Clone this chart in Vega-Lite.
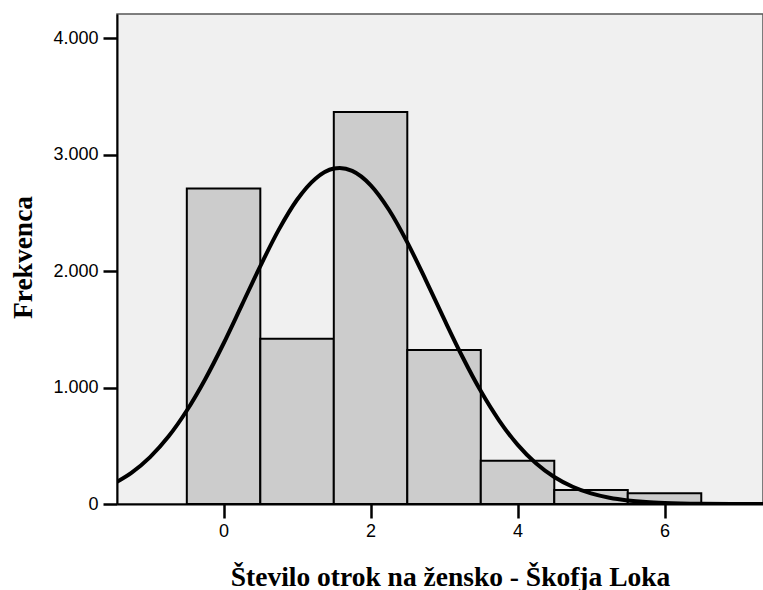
{
  "$schema": "https://vega.github.io/schema/vega-lite/v6.json",
  "width": 646,
  "height": 490,
  "autosize": "none",
  "padding": {"left": 117, "top": 14, "right": 0, "bottom": 86},
  "background": "white",
  "config": {
    "view": {"fill": "#F0F0F0", "stroke": "#555555", "strokeWidth": 1.5},
    "axis": {
      "grid": false,
      "domainColor": "black",
      "domainWidth": 2,
      "tickColor": "black",
      "tickWidth": 2.5,
      "tickSize": 14,
      "labelFont": "Liberation Sans",
      "labelFontSize": 18,
      "labelColor": "black",
      "titleFont": "Liberation Serif",
      "titleFontWeight": "bold",
      "titleFontSize": 27.5,
      "titleColor": "black"
    }
  },
  "layer": [
    {
      "data": {
        "values": [
          {"bin_start": -0.5, "bin_end": 0.5, "count": 2710},
          {"bin_start": 0.5, "bin_end": 1.5, "count": 1420},
          {"bin_start": 1.5, "bin_end": 2.5, "count": 3368},
          {"bin_start": 2.5, "bin_end": 3.5, "count": 1323},
          {"bin_start": 3.5, "bin_end": 4.5, "count": 372},
          {"bin_start": 4.5, "bin_end": 5.5, "count": 120},
          {"bin_start": 5.5, "bin_end": 6.5, "count": 92}
        ]
      },
      "mark": {"type": "rect", "fill": "#CCCCCC", "stroke": "black", "strokeWidth": 2},
      "encoding": {
        "x": {
          "field": "bin_start",
          "type": "quantitative",
          "scale": {"domain": [-1.45, 7.34], "nice": false, "zero": false},
          "axis": {
            "values": [0, 2, 4, 6],
            "format": "d",
            "labelPadding": 4,
            "title": "Število otrok na žensko - Škofja Loka",
            "titleBaseline": "alphabetic",
            "titleX": 333,
            "titleY": 81
          }
        },
        "x2": {"field": "bin_end"},
        "y": {
          "field": "count",
          "type": "quantitative",
          "scale": {"domain": [0, 4210], "nice": false},
          "axis": {
            "values": [0, 1000, 2000, 3000, 4000],
            "labelExpr": "replace(format(datum.value, ','), ',', '.')",
            "labelPadding": 5,
            "title": "Frekvenca",
            "titleX": -94,
            "titleY": 243,
            "titleAlign": "center",
            "titleBaseline": "middle",
            "titleAngle": -90
          }
        },
        "y2": {"datum": 0}
      }
    },
    {
      "data": {
        "values": [
          {"x": -1.45, "y": 191},
          {"x": -1.25, "y": 270},
          {"x": -1.0, "y": 403},
          {"x": -0.75, "y": 579},
          {"x": -0.5, "y": 803},
          {"x": -0.25, "y": 1072},
          {"x": 0.0, "y": 1379},
          {"x": 0.25, "y": 1711},
          {"x": 0.5, "y": 2044},
          {"x": 0.75, "y": 2355},
          {"x": 1.0, "y": 2614},
          {"x": 1.25, "y": 2795},
          {"x": 1.5, "y": 2882},
          {"x": 1.58, "y": 2887},
          {"x": 1.75, "y": 2862},
          {"x": 2.0, "y": 2740},
          {"x": 2.25, "y": 2528},
          {"x": 2.5, "y": 2248},
          {"x": 2.75, "y": 1926},
          {"x": 3.0, "y": 1590},
          {"x": 3.25, "y": 1265},
          {"x": 3.5, "y": 970},
          {"x": 3.75, "y": 717},
          {"x": 4.0, "y": 510},
          {"x": 4.25, "y": 350},
          {"x": 4.5, "y": 232},
          {"x": 4.75, "y": 148},
          {"x": 5.0, "y": 91},
          {"x": 5.25, "y": 54},
          {"x": 5.5, "y": 31},
          {"x": 5.75, "y": 17},
          {"x": 6.0, "y": 9},
          {"x": 6.5, "y": 2},
          {"x": 7.0, "y": 0.4},
          {"x": 7.34, "y": 0.1}
        ]
      },
      "mark": {"type": "line", "color": "black", "strokeWidth": 4, "interpolate": "monotone", "clip": true},
      "encoding": {
        "x": {"field": "x", "type": "quantitative"},
        "y": {"field": "y", "type": "quantitative"}
      }
    }
  ]
}
